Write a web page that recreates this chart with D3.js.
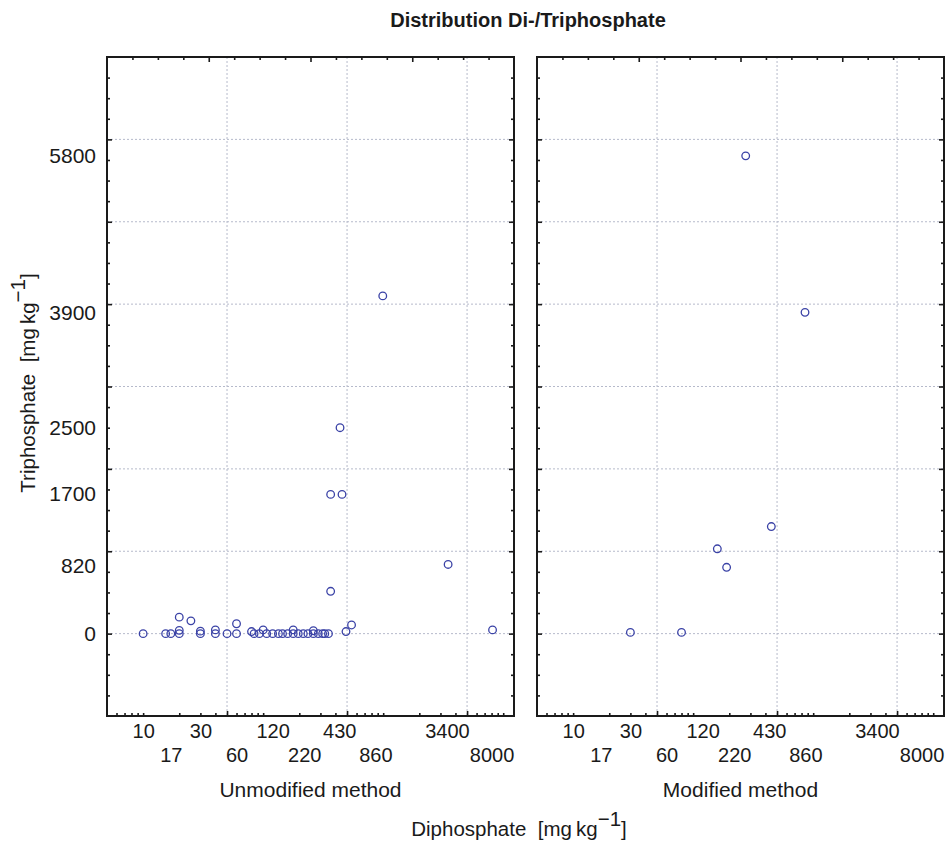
<!DOCTYPE html>
<html>
<head>
<meta charset="utf-8">
<script src="https://cdn.jsdelivr.net/npm/d3@7"></script>
<style>
  body { margin: 0; background: #fff; }
  text { font-family: "Liberation Sans", Arial, sans-serif; fill: #1a1a1a; white-space: pre; }
</style>
</head>
<body>
<svg id="chart" width="946" height="841"></svg>
<script>
// diphosphate (x) / triphosphate (y), mg/kg
const unmodDi  = [10, 15.4, 17, 20, 20, 20, 25, 30, 30, 40, 40, 50, 60, 60, 80, 84, 93, 100, 107, 120, 134, 145, 160, 178, 178, 196, 216, 236, 262, 262, 288, 313, 326, 350, 365, 365, 454, 437, 490, 545, 992, 3475, 8150];
const unmodTri = [0, 0, 0, 0, 40, 200, 155, 0, 30, 0, 45, 0, 0, 120, 25, 0, 0, 45, 0, 0, 0, 0, 0, 45, 0, 0, 0, 0, 35, 0, 0, 0, 0, 0, 514, 1690, 1690, 2500, 25, 105, 4100, 840, 45];
const modDi  = [30, 80, 159, 190, 448, 274, 855];
const modTri = [15, 15, 1030, 805, 1300, 5800, 3900];

const yLabels = [0, 820, 1700, 2500, 3900, 5800];
const yGrid = [0, 1000, 2000, 3000, 4000, 5000, 6000];
const xLabelsTop = [10, 30, 120, 430, 3400];
const xLabelsBottom = [17, 60, 220, 860, 8000];
const xGrid = [50, 500, 5000];
const panelNames = ['Unmodified method', 'Modified method'];

const svg = d3.select('#chart');
const plotTop = 57, plotBottom = 716, panelW = 407;
const panelX = [107, 537];
const INK = '#1a1a1a';
const DOT = '#3a42a6';

const y = d3.scaleLinear().domain([-1000, 7000]).range([plotBottom, plotTop]);

// minor log ticks: 6..10, 20, 30, 40 in each decade
const xMinor = [];
[1, 10, 100, 1000].forEach(b => [6, 7, 8, 9, 10, 20, 30, 40].forEach(m => xMinor.push(m * b)));
const yMinor = d3.range(-750, 7000, 250).filter(v => v % 1000 !== 0);
const yMajor = d3.range(0, 7000, 1000);

svg.append('text').attr('x', 528).attr('y', 27).attr('text-anchor', 'middle')
  .attr('font-size', 20).attr('font-weight', 'bold')
  .text('Distribution Di-/Triphosphate');

const panels = [[unmodDi, unmodTri], [modDi, modTri]];

panels.forEach(([xs, ys], p) => {
  const x0 = panelX[p];
  const x = d3.scaleLog().domain([5, 12300]).range([x0, x0 + panelW]);
  const xTop = d3.scaleLinear().domain([0, 16]).range([x0, x0 + panelW]);
  const g = svg.append('g');

  // grid
  g.append('g').selectAll('line').data(yGrid).join('line')
    .attr('x1', x0).attr('x2', x0 + panelW)
    .attr('y1', d => y(d)).attr('y2', d => y(d))
    .attr('stroke', '#b6bacb').attr('stroke-dasharray', '2,2');
  g.append('g').selectAll('line').data(xGrid).join('line')
    .attr('x1', d => x(d)).attr('x2', d => x(d))
    .attr('y1', plotTop).attr('y2', plotBottom)
    .attr('stroke', '#b6bacb').attr('stroke-dasharray', '2,2');

  // points
  g.append('g').selectAll('circle').data(xs).join('circle')
    .attr('cx', d => x(d)).attr('cy', (d, i) => y(ys[i]))
    .attr('r', 3.8).attr('fill', 'none').attr('stroke', DOT).attr('stroke-width', 1.3);

  // inward ticks on all four sides
  const tickAxis = (axis, tx, ty, vals, size) => {
    const a = g.append('g').attr('transform', `translate(${tx},${ty})`)
      .call(axis.tickValues(vals).tickSize(size).tickFormat(''));
    a.select('.domain').remove();
    a.selectAll('line').attr('stroke', INK).attr('stroke-width', 1.6);
  };
  tickAxis(d3.axisRight(y), x0, 0, yMinor, 3);
  tickAxis(d3.axisRight(y), x0, 0, yMajor, 5);
  tickAxis(d3.axisLeft(y), x0 + panelW, 0, yMinor, 3);
  tickAxis(d3.axisLeft(y), x0 + panelW, 0, yMajor, 5);
  tickAxis(d3.axisTop(x), 0, plotBottom, xMinor.filter(v => v < 12300), 3);
  tickAxis(d3.axisTop(x), 0, plotBottom, xGrid, 5);
  tickAxis(d3.axisBottom(xTop), 0, plotTop, d3.range(1, 16).filter(v => v % 4), 3);
  tickAxis(d3.axisBottom(xTop), 0, plotTop, [4, 8, 12], 5);

  // frame
  g.append('rect').attr('x', x0).attr('y', plotTop).attr('width', panelW).attr('height', plotBottom - plotTop)
    .attr('fill', 'none').attr('stroke', INK).attr('stroke-width', 2);

  // x labels, two staggered rows
  [[xLabelsTop, 8], [xLabelsBottom, 32]].forEach(([vals, pad]) => {
    const a = g.append('g').attr('transform', `translate(0,${plotBottom})`)
      .call(d3.axisBottom(x).tickValues(vals).tickSize(0).tickPadding(pad).tickFormat(d3.format('d')));
    a.select('.domain').remove();
    a.selectAll('text').attr('font-size', 20).attr('font-family', null).attr('fill', INK);
  });

  g.append('text').attr('x', x0 + panelW / 2).attr('y', 797).attr('text-anchor', 'middle')
    .attr('font-size', 21).text(panelNames[p]);
});

// y labels on the left panel
const ya = svg.append('g').attr('transform', `translate(${panelX[0]},0)`)
  .call(d3.axisLeft(y).tickValues(yLabels).tickSize(0).tickPadding(11).tickFormat(d3.format('d')));
ya.select('.domain').remove();
ya.selectAll('text').attr('font-size', 21).attr('font-family', null).attr('fill', INK);

// axis titles
const yt = svg.append('text').attr('transform', 'translate(35,383) rotate(-90)')
  .attr('text-anchor', 'middle').attr('font-size', 20.5);
yt.append('tspan').text('Triphosphate  [mg\u2009kg');
yt.append('tspan').attr('dy', -10).text('\u22121');
yt.append('tspan').attr('dy', 10).text(']');

const xt = svg.append('text').attr('x', 519).attr('y', 836)
  .attr('text-anchor', 'middle').attr('font-size', 20.5);
xt.append('tspan').text('Diphosphate  [mg\u2009kg');
xt.append('tspan').attr('dy', -10).text('\u22121');
xt.append('tspan').attr('dy', 10).text(']');
</script>
</body>
</html>
